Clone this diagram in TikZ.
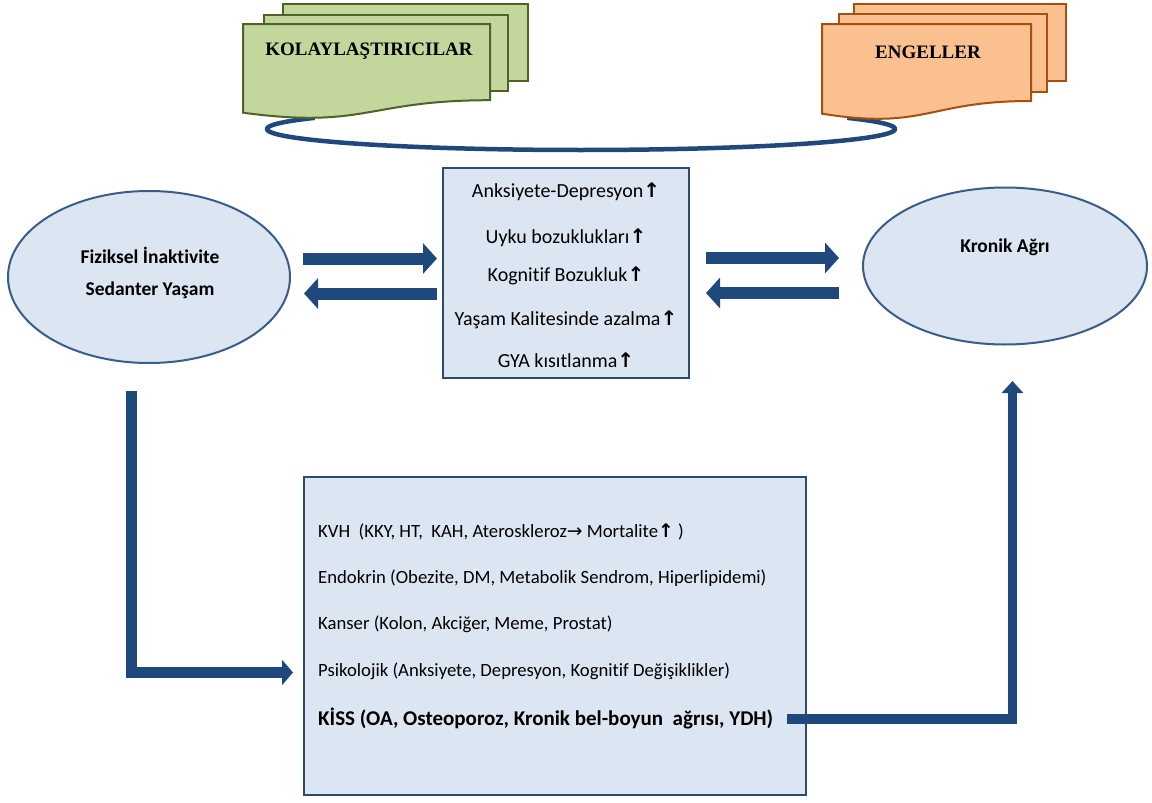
\documentclass[tikz,border=0pt]{standalone}
\usepackage{fontspec}
\setmainfont{Carlito}[Ligatures=NoCommon]
\newfontfamily\symf{DejaVu Sans}
\newfontfamily\serifb{Liberation Serif}
\usetikzlibrary{arrows.meta,shapes.geometric}
\definecolor{docgreen}{HTML}{C3D69B}
\definecolor{docgreenline}{HTML}{4F6228}
\definecolor{docorange}{HTML}{FAC090}
\definecolor{docorangeline}{HTML}{A5500F}
\definecolor{boxfill}{HTML}{DCE6F2}
\definecolor{boxline}{HTML}{2E4A6C}
\definecolor{ellline}{HTML}{385D8A}
\definecolor{arrowblue}{HTML}{1F497D}
\newcommand{\upar}{{\symf\bfseries ↑}}
\newcommand{\rar}{{\symf →}}
\begin{document}
\begin{tikzpicture}[x=1pt,y=-1pt,
  docg/.style={fill=docgreen,draw=docgreenline,line width=2pt},
  doco/.style={fill=docorange,draw=docorangeline,line width=2pt},
  doctitle/.style={font=\serifb\bfseries\fontsize{19}{22}\selectfont,inner sep=0pt},
  bluebox/.style={fill=boxfill,draw=boxline,line width=2pt},
  ell/.style={ellipse,fill=boxfill,draw=ellline,line width=2pt,inner sep=0pt},
  midtxt/.style={font=\fontsize{20}{22}\selectfont,inner sep=0pt},
  lowtxt/.style={font=\fontsize{18.7}{21}\selectfont,inner sep=0pt,anchor=west},
  elltxt/.style={font=\bfseries\fontsize{19.5}{22}\selectfont,inner sep=0pt},
  ring/.style={draw=arrowblue,line width=4.5pt},
  fatA/.style={draw=arrowblue,line width=12pt,-{Triangle[length=14pt,width=30pt]}},
  fatB/.style={draw=arrowblue,line width=11pt,line join=miter,-{Triangle[length=11pt,width=25pt]}},
  fatC/.style={draw=arrowblue,line width=9.5pt,line join=miter,-{Triangle[length=12pt,width=21pt]}}
]
\useasboundingbox (0,0) rectangle (1152,803);
\fill[white] (0,0) rectangle (1152,803);

% ring under the documents (open arc, top hidden)
\draw[ring,domain=-32:212,samples=120,smooth,variable=\t]
  plot ({581+314*cos(\t)},{129+21*sin(\t)});

% green multi-document
\draw[docg] (283,4) rectangle (528,81);
\draw[docg] (264,15) rectangle (508,91);
\draw[docg] (243,24) -- (490,24) -- (490,100.2)
  .. controls (366.5,100.2) and (366.5,129.2) .. (243,112.7) -- cycle;
\node[doctitle] (kol) at (369,51) {KOLAYLAŞTIRICILAR};

% orange multi-document
\draw[doco] (854,4) rectangle (1066,81);
\draw[doco] (839,14) rectangle (1047,92);
\draw[doco] (822,24) -- (1031,24) -- (1031,101)
  .. controls (926.5,101) and (926.5,130.3) .. (822,113.7) -- cycle;
\node[doctitle] (eng) at (928,52) {ENGELLER};

% left ellipse
\node[ell,minimum width=282pt,minimum height=172pt] (fiz) at (149,277) {};
\node[elltxt] (fiz1) at (150,255) {Fiziksel İnaktivite};
\node[elltxt] (fiz2) at (150,290) {Sedanter Yaşam};

% right ellipse
\node[ell,minimum width=284pt,minimum height=157pt] (kro) at (1005,266) {};
\node[elltxt] (kro1) at (1005,247) {Kronik Ağrı};

% middle box
\draw[bluebox] (443,168) rectangle (689,378);
\node[midtxt] (m1) at (566,192) {Anksiyete-Depresyon\upar};
\node[midtxt] (m2) at (566,238) {Uyku bozuklukları\upar};
\node[midtxt] (m3) at (566,276) {Kognitif Bozukluk\upar};
\node[midtxt] (m4) at (566,320) {Yaşam Kalitesinde azalma\upar};
\node[midtxt] (m5) at (566,360) {GYA kısıtlanma\upar};

% bottom box
\draw[bluebox] (304,477) rectangle (806,795);
\node[lowtxt] (b1) at (318,532) {KVH\ \ (KKY, HT,\ \ KAH, Ateroskleroz\rar\ Mortalite\upar\ )};
\node[lowtxt] (b2) at (318,578) {Endokrin (Obezite, DM, Metabolik Sendrom, Hiperlipidemi)};
\node[lowtxt] (b3) at (318,624) {Kanser (Kolon, Akciğer, Meme, Prostat)};
\node[lowtxt] (b4) at (318,671) {Psikolojik (Anksiyete, Depresyon, Kognitif Değişiklikler)};
\node[lowtxt,font=\bfseries\fontsize{21}{23}\selectfont] (b5) at (318,718) {KİSS (OA, Osteoporoz, Kronik bel-boyun\ \ ağrısı, YDH)};

% arrow end points
\coordinate (a1s) at (303,258.5);
\coordinate (a1e) at (437,258.5);
\coordinate (a2s) at (437,293.5);
\coordinate (a2e) at (304,293.5);
\coordinate (a3s) at (706,258);
\coordinate (a3e) at (839,258);
\coordinate (a4s) at (839,293);
\coordinate (a4e) at (706,293);
\coordinate (l1s) at (131.5,391);
\coordinate (l1e) at (293,672.5);
\coordinate (l2s) at (787,719);
\coordinate (l2e) at (1012.5,381);

\draw[fatA] (a1s) -- (a1e);
\draw[fatA] (a2s) -- (a2e);
\draw[fatA] (a3s) -- (a3e);
\draw[fatA] (a4s) -- (a4e);
\draw[fatB] (l1s) |- (l1e);
\draw[fatC] (l2s) -| (l2e);
\end{tikzpicture}
\end{document}
